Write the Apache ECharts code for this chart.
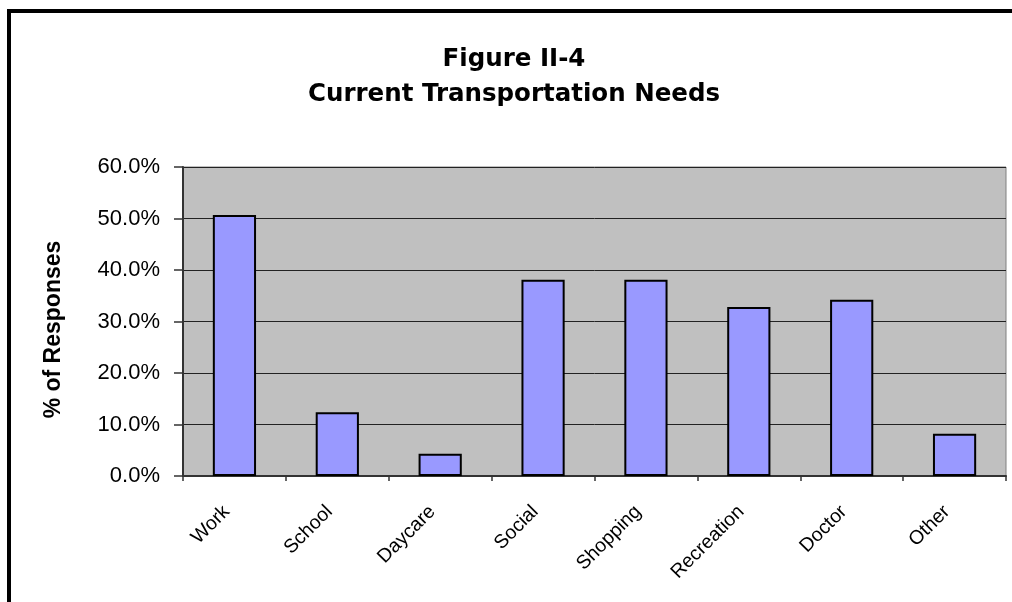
<!DOCTYPE html>
<html>
<head>
<meta charset="utf-8">
<script src="https://cdn.jsdelivr.net/npm/echarts@6/dist/echarts.min.js"></script>
<style>
  html, body { margin: 0; padding: 0; background: #ffffff; }
  #chart { width: 1012px; height: 602px; }
</style>
</head>
<body>
<div id="chart"></div>
<script>
// Trip purposes and the share of survey responses naming each one (%)
const categories = ['Work', 'School', 'Daycare', 'Social', 'Shopping', 'Recreation', 'Doctor', 'Other'];
const responseShare = [50.7, 12.4, 4.3, 38.1, 38.1, 32.8, 34.2, 8.2];

// Value axis range and step (percent)
const yMin = 0;
const yMax = 60;
const yStep = 10;

const titleLines = ['Figure II-4', 'Current Transportation Needs'];
const yAxisTitle = '% of Responses';

const chart = echarts.init(document.getElementById('chart'), null, { renderer: 'canvas' });

chart.setOption({
  backgroundColor: '#ffffff',
  animation: false,
  graphic: [
    {
      // heavy outer frame around the figure
      type: 'rect',
      shape: { x: 9, y: 11, width: 1012, height: 602 },
      style: { fill: null, stroke: '#000000', lineWidth: 4 },
      silent: true
    }
  ],
  title: {
    text: titleLines.join('\n'),
    left: 509,
    top: 37,
    textAlign: 'center',
    textStyle: {
      fontFamily: 'DejaVu Sans',
      fontWeight: 'bold',
      fontSize: 24.5,
      lineHeight: 35,
      color: '#000000'
    }
  },
  grid: {
    left: 183,
    right: 6,
    top: 167,
    bottom: 126,
    show: true,
    backgroundColor: '#c0c0c0',
    borderColor: '#808080',
    borderWidth: 1
  },
  xAxis: {
    type: 'category',
    data: categories,
    boundaryGap: true,
    axisLine: { show: true, lineStyle: { color: '#333333', width: 2 } },
    axisTick: { show: true, inside: false, length: 5, alignWithLabel: false, lineStyle: { color: '#333333', width: 1.5 } },
    axisLabel: {
      rotate: 45,
      interval: 0,
      margin: 25,
      padding: [0, 11, 20, 0],
      fontFamily: 'Liberation Sans',
      fontSize: 19.5,
      color: '#000000'
    },
    splitLine: { show: false }
  },
  yAxis: {
    type: 'value',
    min: yMin,
    max: yMax,
    interval: yStep,
    name: yAxisTitle,
    nameLocation: 'middle',
    nameGap: 118,
    nameRotate: 90,
    nameTextStyle: {
      fontFamily: 'Liberation Sans',
      fontWeight: 'bold',
      fontSize: 23,
      color: '#000000',
      padding: [0, 16, 0, 0]
    },
    axisLine: { show: true, lineStyle: { color: '#333333', width: 2 } },
    axisTick: { show: true, inside: false, length: 9, lineStyle: { color: '#333333', width: 1.5 } },
    axisLabel: {
      margin: 23,
      fontFamily: 'Liberation Sans',
      fontSize: 22,
      color: '#000000',
      formatter: function (v) { return v.toFixed(1) + '%'; }
    },
    splitLine: { show: true, lineStyle: { color: '#222222', width: 1 } }
  },
  series: [
    {
      type: 'bar',
      data: responseShare,
      barWidth: '42%',
      itemStyle: {
        color: '#9999ff',
        borderColor: '#000000',
        borderWidth: 2
      }
    }
  ]
});
</script>
</body>
</html>
